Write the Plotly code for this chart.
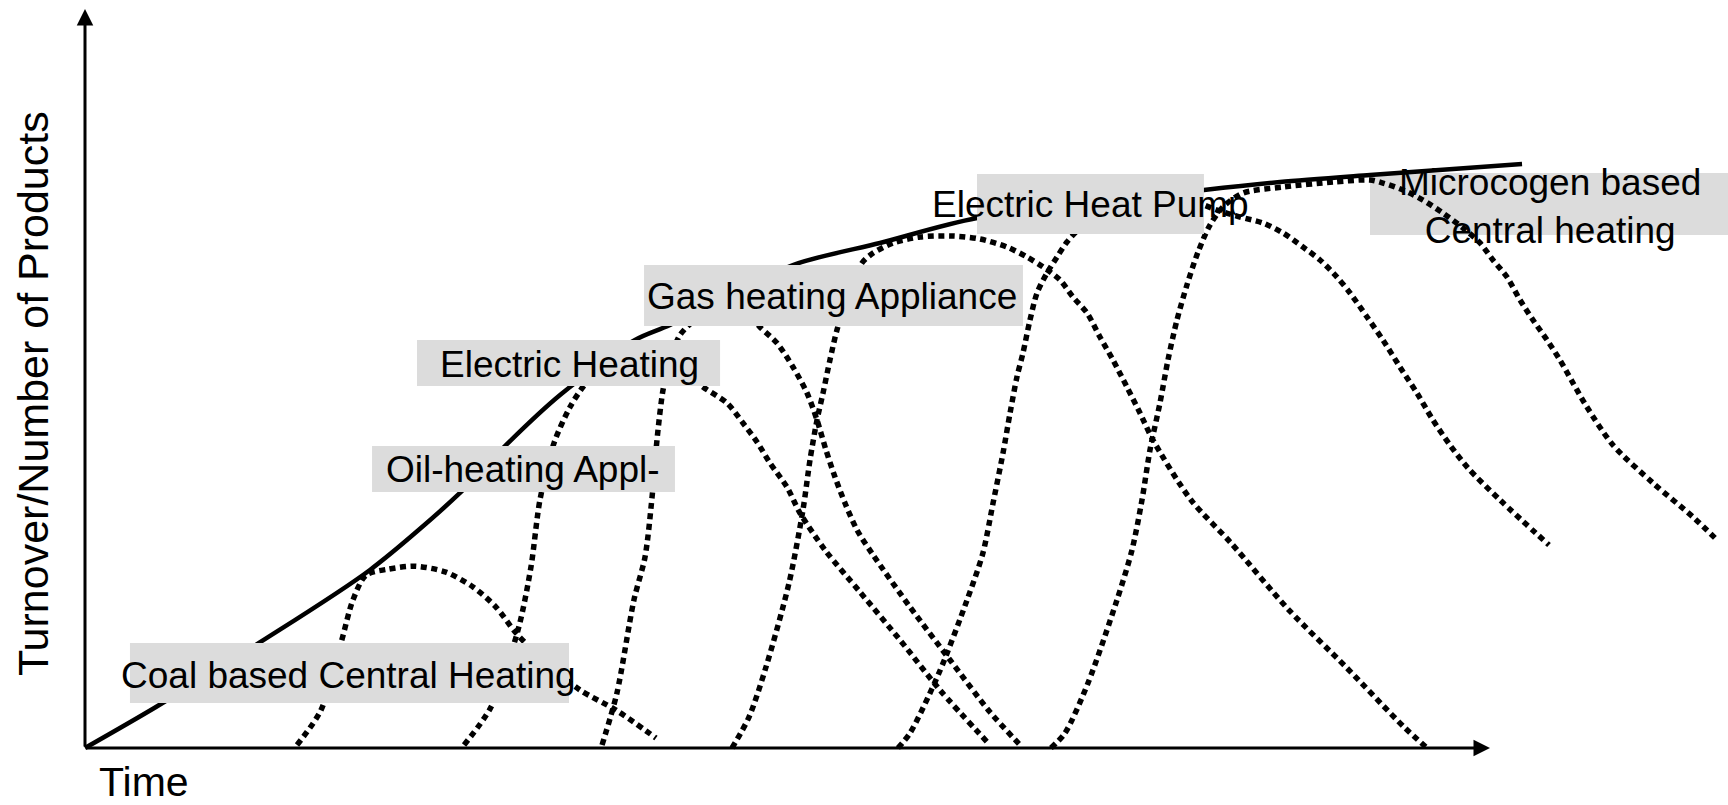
import plotly.graph_objects as go

# ---- data (time units 0..100, turnover units 0..100) ----
envelope_t = [0, 5.05, 12.38, 20.28, 26.69, 29.82, 33.81, 39.15, 41.64, 50.39, 56.58, 63.49, 79.64, 85.05, 91.46, 102.28]
envelope_v = [0, 5.55, 14.21, 24.09, 34.51, 40.73, 47.77, 55.21, 57.24, 65.36, 68.34, 71.72, 75.51, 76.59, 77.54, 79.03]

coal_t = [15.09, 16.80, 18.22, 19.07, 20.00, 21.57, 23.49, 25.69, 27.62, 29.25, 30.68, 32.74, 35.23, 37.79, 40.64]
coal_v = [0.41, 5.14, 14.21, 20.03, 23.4, 24.2, 24.6, 23.8, 21.79, 19.08, 15.56, 11.64, 7.85, 5.14, 1.35]

oil_t = [26.98, 28.90, 30.82, 31.74, 32.38, 33.38, 34.52, 35.44, 36.65, 38.08, 39.50, 40.93, 42.56, 43.99,
         45.69, 46.83, 47.83, 48.75, 49.96, 50.89, 52.67, 55.16, 58.01, 60.85, 64.41]
oil_v = [0.41, 5.55, 15.97, 24.49, 33.56, 41.27, 46.14, 48.85, 51.42, 52.91, 53.59, 53.18, 51.15, 48.85,
         46.68, 43.98, 41.41, 38.57, 35.32, 31.80, 26.79, 21.11, 14.61, 7.85, 0.41]

elec_t = [36.80, 37.86, 39.07, 39.86, 40.36, 40.71, 41.14, 41.64, 42.35, 43.77, 45.77, 46.98, 48.04, 49.25,
          50.39, 51.39, 52.10, 52.74, 53.38, 54.09, 54.95, 56.09, 58.72, 61.57, 64.41, 66.69]
elec_v = [0.41, 7.44, 20.03, 25.85, 33.96, 41.68, 48.44, 52.50, 55.89, 58.46, 59.95, 59.27, 56.97, 54.80,
          51.56, 48.04, 44.38, 40.32, 36.67, 33.15, 29.50, 26.12, 19.08, 11.91, 4.87, 0.14]

gas_t = [46.05, 47.26, 48.47, 50.11, 51.10, 51.60, 52.10, 52.53, 53.02, 53.52, 54.31, 55.30, 56.09, 57.51,
         59.43, 61.78, 63.70, 65.62, 67.05, 68.19, 69.40, 70.32, 71.32, 72.24, 73.17, 74.16, 75.09, 76.01,
         78.72, 81.57, 85.69, 89.75, 93.88, 95.52]
gas_v = [0, 4.19, 10.96, 22.33, 32.21, 38.97, 44.38, 48.04, 52.50, 56.56, 61.30, 65.63, 66.98, 68.34,
         69.15, 69.28, 68.88, 67.79, 66.44, 65.09, 63.33, 61.03, 58.86, 55.62, 52.50, 48.85, 45.33, 41.68,
         33.56, 27.74, 18.67, 10.96, 2.84, 0]

pump_t = [57.86, 58.72, 60.78, 62.78, 63.91, 64.63, 65.34, 65.84, 66.33, 66.76, 67.26, 67.76, 68.47, 69.18,
          69.89, 70.82, 72.24, 74.38, 76.51, 78.65, 80.57, 82.21, 83.84, 85.27, 86.69, 87.90, 89.11, 90.04,
          91.25, 92.38, 93.59, 94.80, 95.94, 97.15, 98.43, 100.71, 104.20]
pump_v = [0, 2.03, 10.15, 20.03, 26.39, 33.15, 39.92, 45.33, 50.20, 53.45, 57.92, 61.57, 64.28, 66.44,
          68.47, 70.37, 72.53, 74.15, 74.70, 74.15, 72.80, 71.85, 71.04, 69.69, 67.79, 66.04, 63.73, 61.57,
          58.32, 55.21, 51.56, 48.04, 44.38, 41.00, 37.89, 33.56, 27.47]

micro_t = [68.75, 69.75, 71.39, 73.45, 74.52, 75.23, 75.80, 76.51, 77.08, 77.72, 78.43, 79.22, 80.07, 80.99,
           82.42, 85.27, 88.83, 91.46, 92.38, 93.81, 95.23, 96.65, 98.08, 99.29, 100.21, 101.21, 102.14,
           103.06, 104.06, 104.98, 105.91, 106.90, 108.75, 111.60, 114.45, 116.16]
micro_v = [0, 2.03, 8.80, 20.03, 26.79, 33.56, 40.32, 46.68, 52.50, 57.92, 62.65, 67.12, 70.77, 73.21,
           75.10, 75.91, 76.59, 76.86, 76.45, 75.51, 74.15, 72.39, 70.37, 68.34, 66.04, 63.73, 60.62,
           57.92, 55.21, 52.50, 49.39, 46.14, 41.00, 35.86, 31.26, 28.15]

label_texts = ["Coal based Central Heating", "Oil-heating Appl-", "Electric Heating",
               "Gas heating Appliance", "Electric Heat Pump", "Microcogen based<br>Central heating"]

x_title = "Time"
y_title = "Turnover/Number of Products"

# ---- layout helpers (positions / styles) ----
FONT = "Liberation Sans, Arial, sans-serif"
label_pos = [(18.72, 9.88), (31.17, 37.75), (34.45, 51.96), (53.17, 61.16), (71.60, 73.61), (104.27, 73.34)]
label_box = [(3.20, 34.45, 6.09, 14.21, "above"),
             (20.43, 41.99, 34.64, 40.87, "above"),
             (23.63, 45.20, 48.99, 55.21, "above"),
             (39.79, 66.76, 57.10, 65.36, "above"),
             (63.49, 79.64, 69.55, 77.67, "above"),
             (91.46, 120.0, 69.42, 77.81, "below")]

fig = go.Figure()

curves = [(coal_t, coal_v), (oil_t, oil_v), (elec_t, elec_v), (gas_t, gas_v),
          (pump_t, pump_v), (micro_t, micro_v)]
for t, v in curves:
    fig.add_trace(go.Scatter(x=t, y=v, mode="lines",
                             line=dict(color="black", width=5.5, dash="6px,4.5px", shape="spline", smoothing=0.8),
                             hoverinfo="skip", showlegend=False))

fig.add_trace(go.Scatter(x=envelope_t, y=envelope_v, mode="lines",
                         line=dict(color="black", width=4.5, shape="spline", smoothing=0.8),
                         hoverinfo="skip", showlegend=False))

shapes = []
for x0, x1, y0, y1, layer in label_box:
    shapes.append(dict(type="rect", xref="x", yref="y", x0=x0, x1=x1, y0=y0, y1=y1,
                       fillcolor="#dcdcdc", line=dict(width=0), layer=layer))

annotations = []
for txt, (x, y) in zip(label_texts, label_pos):
    annotations.append(dict(x=x, y=y, xref="x", yref="y", text=txt, showarrow=False,
                            xanchor="center", yanchor="middle", align="center",
                            font=dict(family=FONT, size=37, color="black")))

# axes drawn as arrows
annotations.append(dict(x=100, y=0, ax=0, ay=0, xref="x", yref="y", axref="x", ayref="y",
                        text="", showarrow=True, arrowhead=2, arrowsize=1.1, arrowwidth=3,
                        arrowcolor="black", standoff=0))
annotations.append(dict(x=0, y=100, ax=0, ay=0, xref="x", yref="y", axref="x", ayref="y",
                        text="", showarrow=True, arrowhead=2, arrowsize=1.1, arrowwidth=3,
                        arrowcolor="black", standoff=0))

annotations.append(dict(x=4.20, y=-4.55, xref="x", yref="y", text=x_title, showarrow=False,
                        xanchor="center", yanchor="middle",
                        font=dict(family=FONT, size=41, color="black")))
annotations.append(dict(x=-3.70, y=47.90, xref="x", yref="y", text=y_title, showarrow=False,
                        xanchor="center", yanchor="middle", textangle=-90,
                        font=dict(family=FONT, size=43, color="black")))

fig.update_layout(
    width=1728, height=805,
    margin=dict(l=0, r=0, t=0, b=0),
    paper_bgcolor="white", plot_bgcolor="white",
    xaxis=dict(range=[-6.05, 116.94], visible=False, fixedrange=True),
    yaxis=dict(range=[-7.71, 101.22], visible=False, fixedrange=True),
    shapes=shapes, annotations=annotations,
    showlegend=False,
)

fig.write_html(
    "out.html",
    config={"displayModeBar": False},
    post_script="document.body.style.margin='0px';document.body.style.overflow='hidden';",
)
